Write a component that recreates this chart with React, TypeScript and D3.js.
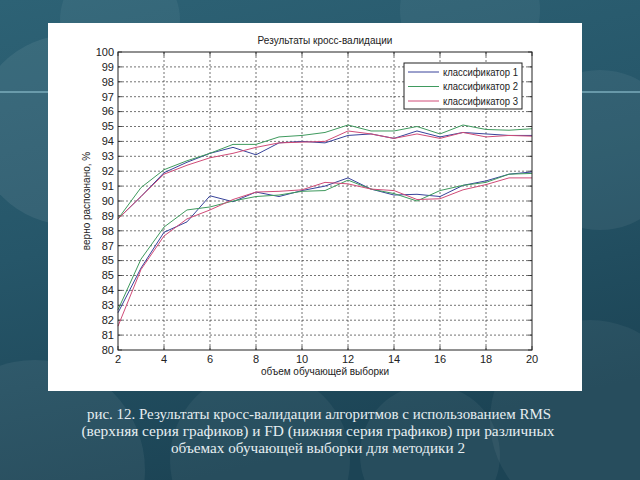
import React from "react";
import * as d3 from "d3";

const xs = [2, 3, 4, 5, 6, 7, 8, 9, 10, 11, 12, 13, 14, 15, 16, 17, 18, 19, 20];

// Upper series (RMS)
const rms1 = [88.8, 90.3, 91.9, 92.6, 93.2, 93.6, 93.1, 93.9, 94.0, 93.9, 94.4, 94.5, 94.2, 94.7, 94.3, 94.6, 94.5, 94.4, 94.4];
const rms2 = [88.8, 90.9, 92.1, 92.7, 93.2, 93.8, 93.8, 94.3, 94.4, 94.6, 95.1, 94.7, 94.7, 95.0, 94.5, 95.1, 94.8, 94.75, 94.85];
const rms3 = [88.8, 90.3, 91.8, 92.4, 92.9, 93.2, 93.6, 93.9, 93.95, 94.0, 94.7, 94.5, 94.2, 94.5, 94.2, 94.6, 94.3, 94.4, 94.35];

// Lower series (FD)
const fd1 = [82.5, 85.5, 87.9, 88.6, 90.35, 89.95, 90.6, 90.3, 90.7, 91.0, 91.55, 90.8, 90.4, 90.45, 90.3, 91.05, 91.35, 91.8, 91.95];
const fd2 = [82.7, 86.1, 88.25, 89.4, 89.6, 90.0, 90.3, 90.4, 90.65, 90.7, 91.4, 90.8, 90.5, 90.0, 90.7, 91.05, 91.25, 91.8, 91.85];
const fd3 = [81.6, 85.4, 87.65, 88.8, 89.4, 90.1, 90.6, 90.65, 90.75, 91.25, 91.15, 90.8, 90.7, 90.1, 90.15, 90.75, 91.1, 91.55, 91.55];

const seriesNames = ["классификатор 1", "классификатор 2", "классификатор 3"];
const seriesColors = ["#38439a", "#3f9a5e", "#d04c78"];

const yTickValues = [80, 81, 82, 83, 84, 85, 86, 87, 88, 89, 90, 91, 92, 93, 94, 95, 96, 97, 98, 99, 100];
const yTickLabels = ["80", "81", "82", "83", "84", "85", "85", "87", "88", "89", "90", "91", "92", "93", "94", "95", "96", "97", "98", "99", "100"];
const xTickValues = [2, 4, 6, 8, 10, 12, 14, 16, 18, 20];

const title = "Результаты кросс-валидации";
const xLabel = "объем обучающей выборки";
const yLabel = "верно распознано, %";
const captionLines = [
  "рис. 12. Результаты кросс-валидации алгоритмов с использованием RMS",
  "(верхняя серия графиков) и FD (нижняя серия графиков) при различных",
  "объемах обучающей выборки для методики 2",
];

export default function App() {
  const left = 118, right = 532, top = 52, bottom = 350;
  const x = d3.scaleLinear().domain([2, 20]).range([left, right]);
  const y = d3.scaleLinear().domain([80, 100]).range([bottom, top]);
  const line = d3
    .line<number>()
    .x((_, i) => x(xs[i]))
    .y((v) => y(v));

  const upper = [rms1, rms2, rms3];
  const lower = [fd1, fd2, fd3];
  const font = "'Liberation Sans', Arial, sans-serif";

  const bokeh = [
    { cx: 70, cy: 130, r: 95, o: 0.07 },
    { cx: 35, cy: 470, r: 110, o: 0.06 },
    { cx: 600, cy: 150, r: 80, o: 0.06 },
    { cx: 590, cy: 420, r: 100, o: 0.05 },
    { cx: 260, cy: 460, r: 90, o: 0.05 },
    { cx: 430, cy: 455, r: 70, o: 0.05 },
    { cx: 120, cy: 20, r: 60, o: 0.05 },
    { cx: 470, cy: 10, r: 70, o: 0.05 },
  ];

  const legendY = [72, 86.5, 101];

  return (
    <svg
      width={640}
      height={480}
      style={{ position: "fixed", left: 0, top: 0, display: "block" }}
      xmlns="http://www.w3.org/2000/svg"
    >
      <defs>
        <linearGradient id="bg" x1="0" y1="0" x2="0.3" y2="1">
          <stop offset="0" stopColor="#2d6275" />
          <stop offset="0.5" stopColor="#265669" />
          <stop offset="1" stopColor="#1c4455" />
        </linearGradient>
      </defs>
      <rect x={0} y={0} width={640} height={480} fill="url(#bg)" />
      {bokeh.map((b, i) => (
        <circle key={i} cx={b.cx} cy={b.cy} r={b.r} fill="#ffffff" opacity={b.o} />
      ))}
      <rect x={0} y={91} width={640} height={2} fill="#7fb0c0" opacity={0.7} />

      {/* white panel */}
      <rect x={48} y={23} width={534} height={368} fill="#ffffff" />

      {/* grid */}
      <g stroke="#444" strokeWidth={0.75} strokeDasharray="2,2">
        {yTickValues.slice(1, -1).map((v) => (
          <line key={"gy" + v} x1={left} x2={right} y1={y(v)} y2={y(v)} />
        ))}
        {xTickValues.slice(1, -1).map((v) => (
          <line key={"gx" + v} y1={top} y2={bottom} x1={x(v)} x2={x(v)} />
        ))}
      </g>

      {/* ticks */}
      <g stroke="#222" strokeWidth={0.8}>
        {yTickValues.map((v) => (
          <g key={"ty" + v}>
            <line x1={left} x2={left + 4} y1={y(v)} y2={y(v)} />
            <line x1={right} x2={right - 4} y1={y(v)} y2={y(v)} />
          </g>
        ))}
        {xTickValues.map((v) => (
          <g key={"tx" + v}>
            <line y1={bottom} y2={bottom - 4} x1={x(v)} x2={x(v)} />
            <line y1={top} y2={top + 4} x1={x(v)} x2={x(v)} />
          </g>
        ))}
      </g>

      {/* series */}
      <g fill="none" strokeWidth={1}>
        {upper.map((s, i) => (
          <path key={"u" + i} d={line(s) || ""} stroke={seriesColors[i]} />
        ))}
        {lower.map((s, i) => (
          <path key={"l" + i} d={line(s) || ""} stroke={seriesColors[i]} />
        ))}
      </g>

      {/* axes box */}
      <rect x={left} y={top} width={right - left} height={bottom - top} fill="none" stroke="#222" strokeWidth={1} />

      {/* tick labels */}
      <g fontFamily={font} fontSize={11} fill="#222">
        {yTickValues.map((v, i) => (
          <text key={"ly" + v} x={left - 4} y={y(v)} dy="0.35em" textAnchor="end">
            {yTickLabels[i]}
          </text>
        ))}
        {xTickValues.map((v) => (
          <text key={"lx" + v} x={x(v)} y={bottom + 13} textAnchor="middle">
            {String(v)}
          </text>
        ))}
      </g>

      {/* titles */}
      <text x={(left + right) / 2} y={44} textAnchor="middle" fontFamily={font} fontSize={10} fill="#222">
        {title}
      </text>
      <text x={(left + right) / 2} y={375} textAnchor="middle" fontFamily={font} fontSize={10} fill="#222">
        {xLabel}
      </text>
      <text
        transform={`translate(90, ${(top + bottom) / 2}) rotate(-90)`}
        textAnchor="middle"
        fontFamily={font}
        fontSize={10}
        fill="#222"
      >
        {yLabel}
      </text>

      {/* legend */}
      <g>
        <rect x={404} y={63} width={118} height={46} fill="#ffffff" stroke="#222" strokeWidth={1} />
        {seriesNames.map((n, i) => (
          <g key={n}>
            <line x1={408} x2={439} y1={legendY[i]} y2={legendY[i]} stroke={seriesColors[i]} strokeWidth={1} />
            <text
              x={443}
              y={legendY[i]}
              dy="0.35em"
              fontFamily={font}
              fontSize={10}
              fill="#222"
              textLength={75}
              lengthAdjust="spacingAndGlyphs"
            >
              {n}
            </text>
          </g>
        ))}
      </g>

      {/* caption */}
      <g fontFamily="'Liberation Serif', serif" fontSize={15} fill="#e6eef1" textAnchor="middle">
        <text x={319} y={419} textLength={464} lengthAdjust="spacingAndGlyphs">{captionLines[0]}</text>
        <text x={318} y={436} textLength={473} lengthAdjust="spacingAndGlyphs">{captionLines[1]}</text>
        <text x={318} y={453} textLength={294} lengthAdjust="spacingAndGlyphs">{captionLines[2]}</text>
      </g>
    </svg>
  );
}
